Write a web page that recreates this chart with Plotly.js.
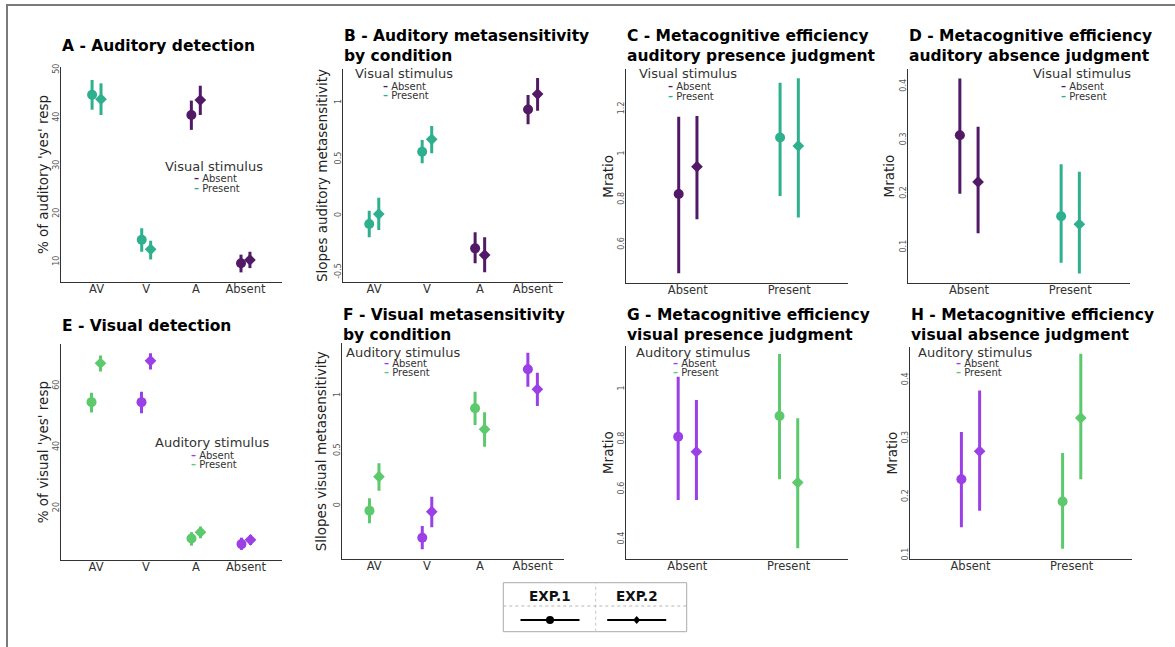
<!DOCTYPE html>
<html>
<head>
<meta charset="utf-8">
<script src="https://cdn.plot.ly/plotly-3.0.1.min.js"></script>
<style>html,body{margin:0;padding:0;background:#fff;}#chart{width:1175px;height:647px;}</style>
</head>
<body>
<div id="chart"></div>
<script>
// ---------- DATA ----------
const condCats = ["AV", "V", "A", "Absent"];
const stimCats = ["Absent", "Present"];

// A - Auditory detection (visual stimulus level for each condition)
const A_visual = ["Present", "Present", "Absent", "Absent"];
const A_exp1_mean = [44.8, 14.6, 40.6, 9.7];
const A_exp1_lo   = [41.7, 12.1, 37.5, 7.8];
const A_exp1_hi   = [47.9, 17.0, 43.6, 11.5];
const A_exp2_mean = [43.9, 12.6, 43.7, 10.4];
const A_exp2_lo   = [40.6, 10.5, 40.6, 8.7];
const A_exp2_hi   = [47.2, 14.4, 46.7, 12.1];

// B - Auditory metasensitivity by condition
const B_exp1_mean = [-0.073, 0.566, -0.289, 0.94];
const B_exp1_lo   = [-0.19, 0.464, -0.42, 0.81];
const B_exp1_hi   = [0.044, 0.67, -0.147, 1.068];
const B_exp2_mean = [0.015, 0.676, -0.348, 1.077];
const B_exp2_lo   = [-0.127, 0.552, -0.50, 0.93];
const B_exp2_hi   = [0.16, 0.794, -0.19, 1.22];

// C - Mratio auditory presence judgment (by visual stimulus)
const C_exp1_mean = [0.824, 1.074];
const C_exp1_lo   = [0.473, 0.815];
const C_exp1_hi   = [1.166, 1.317];
const C_exp2_mean = [0.945, 1.037];
const C_exp2_lo   = [0.712, 0.72];
const C_exp2_hi   = [1.169, 1.336];

// D - Mratio auditory absence judgment
const D_exp1_mean = [0.309, 0.158];
const D_exp1_lo   = [0.2, 0.071];
const D_exp1_hi   = [0.415, 0.255];
const D_exp2_mean = [0.222, 0.143];
const D_exp2_lo   = [0.126, 0.051];
const D_exp2_hi   = [0.325, 0.241];

// E - Visual detection (auditory stimulus level for each condition)
const E_auditory = ["Present", "Absent", "Present", "Absent"];
const E_exp1_mean = [54.7, 54.7, 10.1, 8.3];
const E_exp1_lo   = [51.3, 51.1, 7.8, 6.4];
const E_exp1_hi   = [57.8, 58.1, 12.2, 10.4];
const E_exp2_mean = [67.4, 68.2, 12.2, 9.7];
const E_exp2_lo   = [64.7, 65.4, 10.2, 8.0];
const E_exp2_hi   = [69.9, 70.7, 14.0, 11.3];

// F - Visual metasensitivity by condition
const F_exp1_mean = [-0.042, -0.287, 0.886, 1.239];
const F_exp1_lo   = [-0.157, -0.393, 0.734, 1.082];
const F_exp1_hi   = [0.07, -0.181, 1.036, 1.39];
const F_exp2_mean = [0.266, -0.051, 0.695, 1.058];
const F_exp2_lo   = [0.139, -0.193, 0.538, 0.907];
const F_exp2_hi   = [0.387, 0.085, 0.849, 1.209];

// G - Mratio visual presence judgment (by auditory stimulus)
const G_exp1_mean = [0.81, 0.893];
const G_exp1_lo   = [0.557, 0.64];
const G_exp1_hi   = [1.05, 1.141];
const G_exp2_mean = [0.75, 0.627];
const G_exp2_lo   = [0.557, 0.364];
const G_exp2_hi   = [0.957, 0.884];

// H - Mratio visual absence judgment
const H_exp1_mean = [0.23, 0.192];
const H_exp1_lo   = [0.148, 0.111];
const H_exp1_hi   = [0.311, 0.275];
const H_exp2_mean = [0.278, 0.335];
const H_exp2_lo   = [0.176, 0.23];
const H_exp2_hi   = [0.382, 0.445];

// tick labels
const yt_A = [10, 20, 30, 40, 50];
const yt_B = [-0.5, 0, 0.5, 1];
const yt_B_text = ["-0.5", "0", "0.5", "1"];
const yt_C = [0.6, 0.8, 1, 1.2];
const yt_D = [0.1, 0.2, 0.3, 0.4];
const yt_E = [20, 40, 60];
const yt_F = [0, 0.5, 1];
const yt_G = [0.4, 0.6, 0.8, 1];
const yt_H = [0.1, 0.2, 0.3, 0.4];

// ---------- STYLE ----------
const W = 1175, H = 647;
const px = x => x / W;
const py = y => 1 - y / H;
const visualColors = {Absent: "#521a66", Present: "#2eb08e"};
const audColors = {Absent: "#9b3fe6", Present: "#5cc96c"};
const FONT = "DejaVu Sans, Liberation Sans, sans-serif";
const DODGE = 0.09;

const traces = [];
const layout = {
  width: W, height: H,
  margin: {l: 0, r: 0, t: 0, b: 0},
  paper_bgcolor: "#ffffff", plot_bgcolor: "#ffffff",
  showlegend: false,
  font: {family: FONT, color: "#333"},
  annotations: [], shapes: []
};

function addPanel(k, p) {
  const xs = k === 1 ? "x" : "x" + k, ys = k === 1 ? "y" : "y" + k;
  const exps = [
    {mean: p.e1[0], lo: p.e1[1], hi: p.e1[2], sym: "circle", size: 10, dx: -DODGE},
    {mean: p.e2[0], lo: p.e2[1], hi: p.e2[2], sym: "diamond", size: 9, dx: DODGE}
  ];
  exps.forEach(e => {
    stimCats.forEach(level => {
      const idx = p.cats.map((c, i) => i).filter(i => p.levels[i] === level);
      if (!idx.length) return;
      const col = p.colors[level];
      traces.push({
        type: "scatter", mode: "markers",
        x: idx.map(i => i + e.dx),
        y: idx.map(i => e.mean[i]),
        error_y: {type: "data", symmetric: false,
          array: idx.map(i => e.hi[i] - e.mean[i]),
          arrayminus: idx.map(i => e.mean[i] - e.lo[i]),
          color: col, thickness: 3, width: 0},
        marker: {symbol: e.sym, size: e.size, color: col, line: {width: 0}},
        xaxis: xs, yaxis: ys, hoverinfo: "skip"
      });
    });
  });
  const xa = "xaxis" + (k === 1 ? "" : k), ya = "yaxis" + (k === 1 ? "" : k);
  layout[xa] = {
    domain: [px(p.box[0]), px(p.box[1])], anchor: ys,
    range: p.xr, tickvals: p.cats.map((c, i) => i), ticktext: p.cats,
    showline: true, linecolor: "#333", linewidth: 1, showgrid: false, zeroline: false,
    ticks: "", ticklabelstandoff: -4,
    tickfont: {size: 11.5, color: "#333", family: FONT}, automargin: false
  };
  layout[ya] = {
    domain: [py(p.box[3]), py(p.box[2])], anchor: xs,
    range: p.yr, tickvals: p.yt, ticktext: p.ytt || p.yt.map(String),
    showline: true, linecolor: "#333", linewidth: 1, showgrid: false, zeroline: false,
    ticks: "", tickangle: -90, ticklabelstandoff: -2,
    tickfont: {size: 8, color: "#555", family: FONT},
    title: {text: p.ytitle, font: {size: 13.5, color: "#222", family: FONT}, standoff: p.standoff},
    automargin: false
  };
  // panel title
  layout.annotations.push({
    xref: "paper", yref: "paper", x: px(p.box[0] - 1), y: py(p.titleY),
    xanchor: "left", yanchor: "middle", align: "left", showarrow: false,
    text: p.title, font: {family: FONT, size: 15.5, color: "#000", weight: "bold"}
  });
  // legend (ggplot style, inside panel)
  layout.annotations.push({
    xref: "paper", yref: "paper", x: px(p.leg.tx), y: py(p.leg.ty - 0.5),
    xanchor: "center", yanchor: "middle", showarrow: false,
    text: p.legTitle, font: {family: FONT, size: 13, color: "#333"}
  });
  stimCats.forEach((level, j) => {
    layout.annotations.push({
      xref: "paper", yref: "paper", x: px(p.leg.ex), y: py(p.leg.ey + 0.8 + j * 9.7),
      xanchor: "left", yanchor: "middle", showarrow: false,
      text: "<span style='color:" + p.colors[level] + "'><b>–</b></span> " + level,
      font: {family: FONT, size: 10, color: "#333"}
    });
  });
}

addPanel(1, {cats: condCats, levels: A_visual, colors: visualColors,
  e1: [A_exp1_mean, A_exp1_lo, A_exp1_hi], e2: [A_exp2_mean, A_exp2_lo, A_exp2_hi],
  box: [61, 282, 67, 282], xr: [-0.716, 3.736], yr: [5.8, 50.6], yt: yt_A,
  ytitle: "% of auditory 'yes' resp", standoff: 0,
  title: "A - Auditory detection", titleY: 46, legTitle: "Visual stimulus",
  leg: {tx: 213.5, ty: 166.7, ex: 192.5, ey: 177.7}});

addPanel(2, {cats: condCats, levels: A_visual, colors: visualColors,
  e1: [B_exp1_mean, B_exp1_lo, B_exp1_hi], e2: [B_exp2_mean, B_exp2_lo, B_exp2_hi],
  box: [343.3, 563, 69.3, 281.7], xr: [-0.58, 3.57], yr: [-0.584, 1.296], yt: yt_B, ytt: yt_B_text,
  ytitle: "Slopes auditory metasensitivity", standoff: 3,
  title: "B - Auditory metasensitivity<br>by condition", titleY: 46, legTitle: "Visual stimulus",
  leg: {tx: 404, ty: 74, ex: 380.5, ey: 85.3}});

addPanel(3, {cats: stimCats, levels: stimCats, colors: visualColors,
  e1: [C_exp1_mean, C_exp1_lo, C_exp1_hi], e2: [C_exp2_mean, C_exp2_lo, C_exp2_hi],
  box: [626, 848, 69.3, 283.3], xr: [-0.61, 1.58], yr: [0.429, 1.376], yt: yt_C,
  ytitle: "Mratio", standoff: 0,
  title: "C - Metacognitive efficiency<br>auditory presence judgment", titleY: 46, legTitle: "Visual stimulus",
  leg: {tx: 687.7, ty: 74, ex: 665.5, ey: 85.7}});

addPanel(4, {cats: stimCats, levels: stimCats, colors: visualColors,
  e1: [D_exp1_mean, D_exp1_lo, D_exp1_hi], e2: [D_exp2_mean, D_exp2_lo, D_exp2_hi],
  box: [907.7, 1130, 69.3, 282.7], xr: [-0.605, 1.59], yr: [0.034, 0.432], yt: yt_D,
  ytitle: "Mratio", standoff: 0,
  title: "D - Metacognitive efficiency<br>auditory absence judgment", titleY: 46, legTitle: "Visual stimulus",
  leg: {tx: 1082, ty: 74, ex: 1059, ey: 85.7}});

addPanel(5, {cats: condCats, levels: E_auditory, colors: audColors,
  e1: [E_exp1_mean, E_exp1_lo, E_exp1_hi], e2: [E_exp2_mean, E_exp2_lo, E_exp2_hi],
  box: [61, 282, 344.3, 560], xr: [-0.70, 3.72], yr: [3.1, 73.6], yt: yt_E,
  ytitle: "% of visual 'yes' resp", standoff: 0,
  title: "E - Visual detection", titleY: 326, legTitle: "Auditory stimulus",
  leg: {tx: 211.8, ty: 443.3, ex: 189, ey: 454.3}});

addPanel(6, {cats: condCats, levels: E_auditory, colors: audColors,
  e1: [F_exp1_mean, F_exp1_lo, F_exp1_hi], e2: [F_exp2_mean, F_exp2_lo, F_exp2_hi],
  box: [341.7, 564.3, 343.3, 559.3], xr: [-0.616, 3.6], yr: [-0.483, 1.475], yt: yt_F,
  ytitle: "Sllopes visual metasensitivity", standoff: 2,
  title: "F - Visual metasensitivity<br>by condition", titleY: 325, legTitle: "Auditory stimulus",
  leg: {tx: 403.3, ty: 352.7, ex: 382.3, ey: 362.3}});

addPanel(7, {cats: stimCats, levels: stimCats, colors: audColors,
  e1: [G_exp1_mean, G_exp1_lo, G_exp1_hi], e2: [G_exp2_mean, G_exp2_lo, G_exp2_hi],
  box: [626, 848, 346, 559.3], xr: [-0.605, 1.586], yr: [0.32, 1.173], yt: yt_G,
  ytitle: "Mratio", standoff: 0,
  title: "G - Metacognitive efficiency<br>visual presence judgment", titleY: 325, legTitle: "Auditory stimulus",
  leg: {tx: 693, ty: 352.7, ex: 670.5, ey: 362.3}});

addPanel(8, {cats: stimCats, levels: stimCats, colors: audColors,
  e1: [H_exp1_mean, H_exp1_lo, H_exp1_hi], e2: [H_exp2_mean, H_exp2_lo, H_exp2_hi],
  box: [910, 1131.7, 346.7, 559.3], xr: [-0.598, 1.593], yr: [0.093, 0.457], yt: yt_H,
  ytitle: "Mratio", standoff: 0,
  title: "H - Metacognitive efficiency<br>visual absence judgment", titleY: 325, legTitle: "Auditory stimulus",
  leg: {tx: 975, ty: 352.7, ex: 954, ey: 362.3}});

// ---------- figure frame ----------
layout.shapes.push({type: "path", xref: "paper", yref: "paper",
  path: `M ${px(7)} ${py(647)} L ${px(7)} ${py(5)} L ${px(1175)} ${py(5)}`,
  line: {color: "#7a7a7a", width: 2}});

// ---------- EXP legend box ----------
const boxL = 503.3, boxR = 686.7, boxT = 582.7, boxB = 631.7, midX = 595.7, midY = 606;
layout.shapes.push({type: "rect", xref: "paper", yref: "paper",
  x0: px(boxL), x1: px(boxR), y0: py(boxB), y1: py(boxT), line: {color: "#aaaaaa", width: 1}});
layout.shapes.push({type: "line", xref: "paper", yref: "paper",
  x0: px(midX), x1: px(midX), y0: py(boxB), y1: py(boxT), line: {color: "#c8c8c8", width: 1, dash: "dot"}});
layout.shapes.push({type: "line", xref: "paper", yref: "paper",
  x0: px(boxL), x1: px(boxR), y0: py(midY), y1: py(midY), line: {color: "#b5b5b5", width: 1, dash: "dot"}});
const expLabels = ["EXP.1", "EXP.2"];
const expCenters = [550, 636.7];
expLabels.forEach((t, j) => {
  const cx = expCenters[j];
  layout.annotations.push({xref: "paper", yref: "paper", x: px(cx), y: py(595.5),
    xanchor: "center", yanchor: "middle", showarrow: false, text: t,
    font: {family: FONT, size: 13.5, color: "#111", weight: "bold"}});
  layout.shapes.push({type: "line", xref: "paper", yref: "paper",
    x0: px(cx - 29.5), x1: px(cx + 29.5), y0: py(620), y1: py(620), line: {color: "#000", width: 2}});
  if (j === 0) {
    layout.shapes.push({type: "circle", xref: "paper", yref: "paper",
      x0: px(cx - 4), x1: px(cx + 4), y0: py(624), y1: py(616), fillcolor: "#000", line: {color: "#000", width: 0}});
  } else {
    layout.shapes.push({type: "path", xref: "paper", yref: "paper",
      path: `M ${px(cx)} ${py(616)} L ${px(cx + 3.5)} ${py(620)} L ${px(cx)} ${py(624)} L ${px(cx - 3.5)} ${py(620)} Z`,
      fillcolor: "#000", line: {color: "#000", width: 0}});
  }
});

Plotly.newPlot("chart", traces, layout, {displayModeBar: false, staticPlot: true});
</script>
</body>
</html>
